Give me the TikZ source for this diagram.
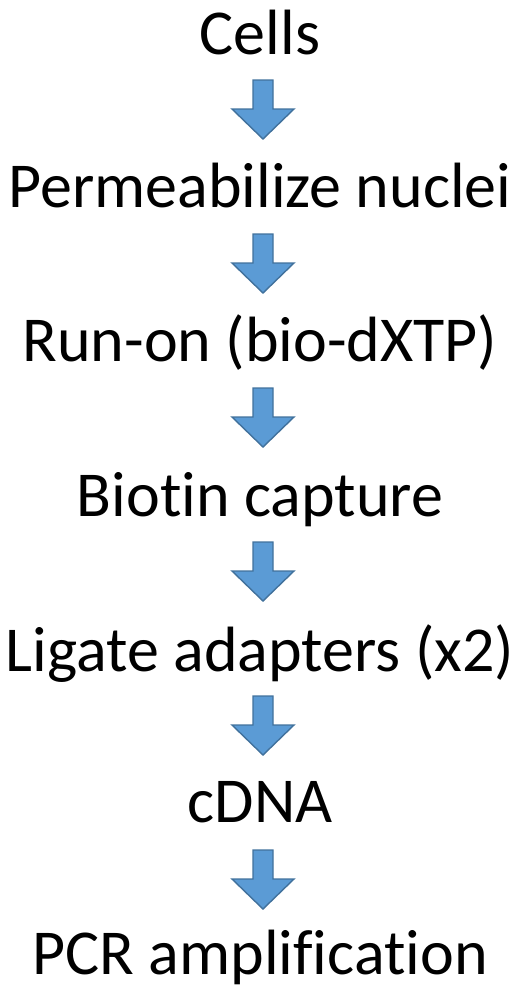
\documentclass[tikz,border=0pt]{standalone}
\usepackage{fontspec}
\setmainfont{Carlito}[RawFeature={-liga;-clig;-dlig;-calt}]
\newcommand{\nl}{\kern0pt{}}
\definecolor{arrowfill}{HTML}{5B9BD5}
\definecolor{arrowline}{HTML}{41719C}
\begin{document}
\begin{tikzpicture}[x=1pt,y=1pt,
  steptext/.style={anchor=base,inner sep=0pt,font=\fontsize{64}{70}\selectfont},
  blockarrow/.style={fill=arrowfill,draw=arrowline,line width=1.4pt,line join=miter}]
\useasboundingbox (0,0) rectangle (519,-986);
\foreach \t/\b [count=\i from 0] in {Cells/54,Permeabilize nuclei/207,Run-on (bio-dXTP)/361,Biot\nl in capture/516,Ligate adapters (x2)/671,cDNA/822,PCR amplif\nl icat\nl ion/974}{
  \node[steptext] (s\i) at (260,-\b) {\t};
}
\foreach \i in {0,...,5}{
  \draw[blockarrow] ({263-10},{-80-\i*154}) -- ++(20,0) -- ++(0,-29) -- ++(21,0) -- ++(-31,-30) -- ++(-31,30) -- ++(21,0) -- cycle;
}
\end{tikzpicture}
\end{document}
